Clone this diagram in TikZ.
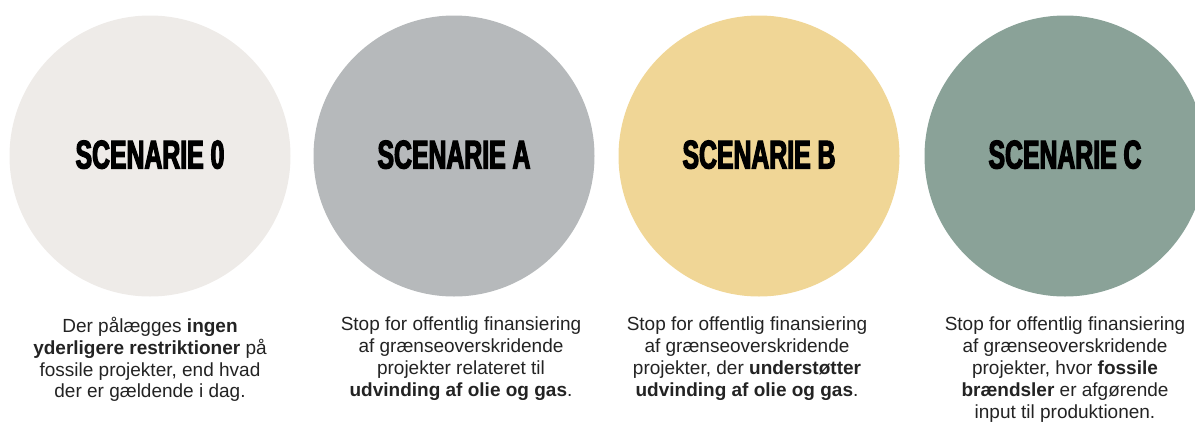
\documentclass[tikz,border=0pt]{standalone}
\usepackage{fontspec}
\setmainfont{Liberation Sans}
\newfontfamily\titlefont[FakeStretch=0.62,FakeBold=3]{Liberation Sans}
\usepackage{tikz}

\definecolor{scenzero}{RGB}{238,235,232}
\definecolor{scena}{RGB}{182,185,187}
\definecolor{scenb}{RGB}{240,214,150}
\definecolor{scenc}{RGB}{138,162,152}
\definecolor{bodytext}{RGB}{35,35,35}

\begin{document}
\begin{tikzpicture}[x=1pt, y=-1pt,
	scen/.style = {circle, minimum size=281pt, inner sep=0pt,
		font=\titlefont\bfseries\fontsize{40}{40}\selectfont},
	desc/.style = {anchor=north, align=center, inner sep=0pt, text=bodytext,
		font=\fontsize{19}{21.8}\selectfont}]
	\useasboundingbox (0,0) rectangle (1195,421);

	\node [scen, fill=scenzero] (s0) at (150,156) {\raisebox{3pt}{SCENARIE 0}};
	\node [scen, fill=scena] (sa) at (454,156) {\raisebox{3pt}{SCENARIE A}};
	\node [scen, fill=scenb] (sb) at (759,156) {\raisebox{3pt}{SCENARIE B}};
	\node [scen, fill=scenc] (sc) at (1065,156) {\raisebox{3pt}{SCENARIE C}};

	\node [desc] (t0) at (150,317) {Der pålægges \textbf{ingen}\\
		\textbf{yderligere restriktioner} på\\
		fossile projekter, end hvad\\
		der er gældende i dag.};
	\node [desc] (ta) at (461,317) {Stop for offentlig finansiering\\
		af grænseoverskridende\\
		projekter relateret til\\
		\textbf{udvinding af olie og gas}.};
	\node [desc] (tb) at (747,317) {Stop for offentlig finansiering\\
		af grænseoverskridende\\
		projekter, der \textbf{understøtter}\\
		\textbf{udvinding af olie og gas}.};
	\node [desc] (tc) at (1065,317) {Stop for offentlig finansiering\\
		af grænseoverskridende\\
		projekter, hvor \textbf{fossile}\\
		\textbf{brændsler} er afgørende\\
		input til produktionen.};

\end{tikzpicture}
\end{document}
